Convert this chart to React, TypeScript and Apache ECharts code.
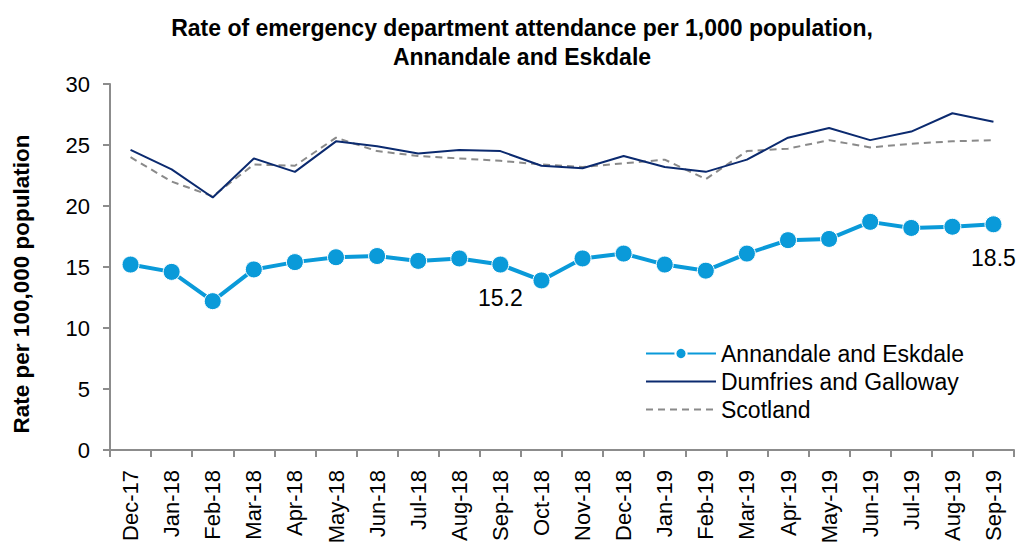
import React, { useEffect, useRef } from "react";
import * as echarts from "echarts";

const months = [
  "Dec-17", "Jan-18", "Feb-18", "Mar-18", "Apr-18", "May-18", "Jun-18", "Jul-18",
  "Aug-18", "Sep-18", "Oct-18", "Nov-18", "Dec-18", "Jan-19", "Feb-19", "Mar-19",
  "Apr-19", "May-19", "Jun-19", "Jul-19", "Aug-19", "Sep-19",
];

const annandale = [
  15.2, 14.6, 12.2, 14.8, 15.4, 15.8, 15.9, 15.5, 15.7, 15.2, 13.9,
  15.7, 16.1, 15.2, 14.7, 16.1, 17.2, 17.3, 18.7, 18.2, 18.3, 18.5,
];

const dumfries = [
  24.6, 23.0, 20.7, 23.9, 22.8, 25.3, 24.9, 24.3, 24.6, 24.5, 23.3,
  23.1, 24.1, 23.2, 22.8, 23.8, 25.6, 26.4, 25.4, 26.1, 27.6, 26.9,
];

const scotland = [
  24.0, 22.0, 20.8, 23.4, 23.3, 25.6, 24.5, 24.1, 23.9, 23.7, 23.4,
  23.2, 23.5, 23.8, 22.2, 24.5, 24.7, 25.4, 24.8, 25.1, 25.3, 25.4,
];

// Months whose Annandale value is printed under the marker
const labelledMonths = ["Sep-18", "Sep-19"];

const FONT = "'Liberation Sans', Arial, sans-serif";
const AXIS_GREY = "#8c8c8c";
const BLUE = "#0a9ad9";
const NAVY = "#0b2a6f";
const GREY = "#8a8a8a";

export default function App() {
  const ref = useRef<HTMLDivElement>(null);

  useEffect(() => {
    if (!ref.current) return;
    const chart = echarts.init(ref.current, undefined, { renderer: "svg" });

    chart.setOption({
      animation: false,
      backgroundColor: "#ffffff",
      textStyle: { fontFamily: FONT },
      title: {
        text: "Rate of emergency department attendance per 1,000 population,\nAnnandale and Eskdale",
        left: 517,
        top: 8,
        textAlign: "center",
        textStyle: {
          fontFamily: FONT,
          fontSize: 23,
          fontWeight: "bold",
          color: "#000",
          lineHeight: 29,
        },
      },
      graphic: [
        {
          type: "text",
          x: 21,
          y: 284,
          rotation: Math.PI / 2,
          style: {
            text: "Rate per 100,000 population",
            font: `bold 22.5px ${FONT}`,
            fill: "#000",
            align: "center",
            verticalAlign: "middle",
          },
        },
      ],
      legend: {
        left: 640,
        top: 337,
        orient: "vertical",
        itemWidth: 70,
        itemHeight: 14,
        itemGap: 5,
        textStyle: { fontFamily: FONT, fontSize: 23, color: "#000" },
        data: [
          { name: "Annandale and Eskdale" },
          { name: "Dumfries and Galloway", itemStyle: { opacity: 0 } },
          { name: "Scotland", itemStyle: { opacity: 0 } },
        ],
      },
      grid: { left: 110, right: 8, top: 84, bottom: 100 },
      xAxis: {
        type: "category",
        data: months,
        boundaryGap: true,
        axisLine: { lineStyle: { color: AXIS_GREY, width: 2 } },
        axisTick: { show: true, length: 7, lineStyle: { color: AXIS_GREY, width: 2 } },
        axisLabel: {
          rotate: 90,
          margin: 20,
          interval: 0,
          fontFamily: FONT,
          fontSize: 22,
          color: "#000",
        },
      },
      yAxis: {
        type: "value",
        min: 0,
        max: 30,
        interval: 5,
        axisLine: { show: true, lineStyle: { color: AXIS_GREY, width: 2 } },
        axisTick: { show: true, length: 7, lineStyle: { color: AXIS_GREY, width: 2 } },
        splitLine: { show: false },
        axisLabel: { margin: 20, fontFamily: FONT, fontSize: 22, color: "#000" },
      },
      series: [
        {
          name: "Annandale and Eskdale",
          type: "line",
          data: annandale.map((v, i) => ({
            value: v,
            label: {
              show: labelledMonths.includes(months[i]),
              position: "bottom",
              distance: 13,
              formatter: (p: any) => p.value.toFixed(1),
              fontFamily: FONT,
              fontSize: 23,
              color: "#000",
            },
          })),
          symbol: "circle",
          symbolSize: 17,
          color: BLUE,
          lineStyle: { color: BLUE, width: 4 },
          itemStyle: { color: BLUE, borderColor: "#ffffff", borderWidth: 1 },
          z: 5,
        },
        {
          name: "Dumfries and Galloway",
          type: "line",
          data: dumfries,
          symbol: "none",
          color: NAVY,
          lineStyle: { color: NAVY, width: 2 },
          z: 4,
        },
        {
          name: "Scotland",
          type: "line",
          data: scotland,
          symbol: "none",
          color: GREY,
          lineStyle: { color: GREY, width: 2, type: [7, 5] },
          z: 3,
        },
      ],
    });

    return () => chart.dispose();
  }, []);

  return <div ref={ref} style={{ width: 1022, height: 550, position: "absolute", left: 0, top: 0 }} />;
}
